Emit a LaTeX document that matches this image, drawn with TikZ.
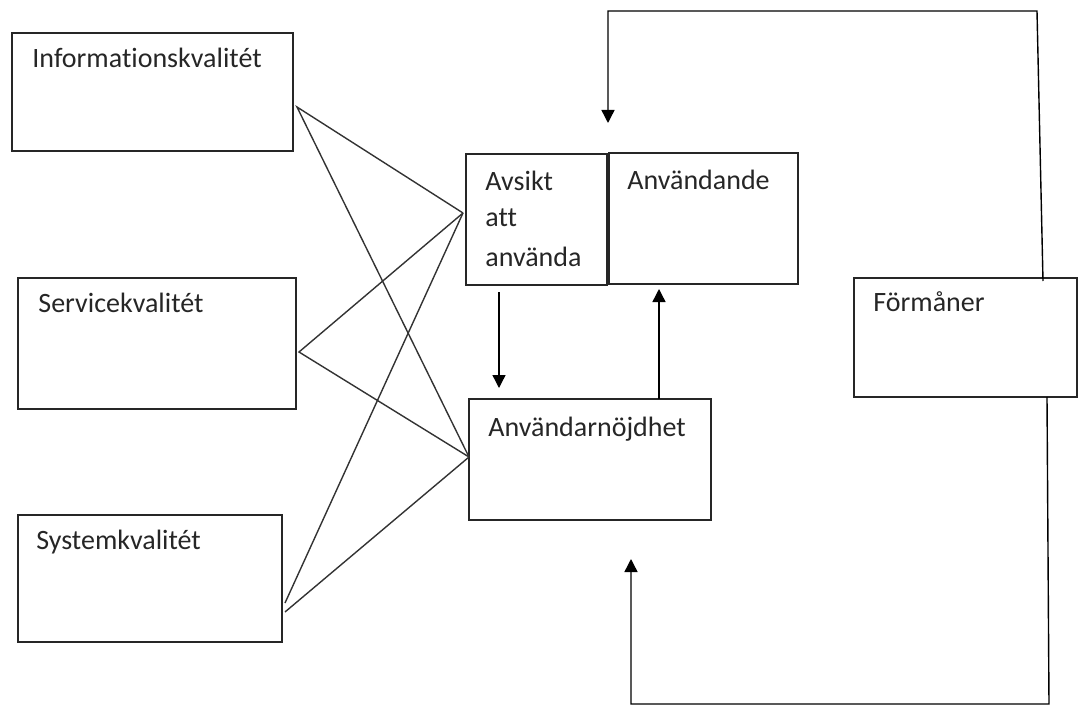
\documentclass[tikz,border=0pt]{standalone}
\usepackage{fontspec}
\setmainfont{Carlito}[Ligatures=CommonOff]
\usetikzlibrary{calc}
\usetikzlibrary{arrows.meta}
\usetikzlibrary{positioning}

\tikzset{
  box/.style={draw=black!85,line width=0.7pt,inner sep=0pt,outer sep=0pt},
  lbl/.style={anchor=base west,inner sep=0pt,font=\fontsize{14}{18.5}\selectfont,text=black!85},
  link/.style={draw=black!80,line width=0.7pt},
  arr/.style={draw=black,line width=0.7pt,-{Triangle[length=6.5pt,width=6.5pt]}}
}

\begin{document}
\begin{tikzpicture}[x=0.5pt,y=-0.5pt]
        \useasboundingbox (0,0) rectangle (1083,706);

        \node[box,minimum width=140.5pt,minimum height=59pt] (info) at (152.5,92) {};
        \node[box,minimum width=139pt,minimum height=65.5pt] (serv) at (157,343.5) {};
        \node[box,minimum width=132pt,minimum height=63.5pt] (sys) at (150,578.5) {};
        \node[box,minimum width=70.5pt,minimum height=65.5pt] (avs) at (536.5,219.5) {};
        \node[box,minimum width=94.5pt,minimum height=65.5pt] (anv) at (703.5,218.5) {};
        \node[box,minimum width=121pt,minimum height=60.5pt] (noj) at (590,459.5) {};
        \node[box,minimum width=111.5pt,minimum height=59.5pt] (form) at (965.5,337.5) {};

        \node[lbl] at ($(info.north west)+(20,35)$) {Informationskvalitét};
        \node[lbl] at ($(serv.north west)+(20,35)$) {Servicekvalitét};
        \node[lbl] at ($(sys.north west)+(18,34)$) {Systemkvalitét};
        \node[lbl] at ($(avs.north west)+(19,37)$) {Avsikt};
        \node[lbl] at ($(avs.north west)+(19,73)$) {att};
        \node[lbl] at ($(avs.north west)+(19,112)$) {använda};
        \node[lbl] at ($(anv.north west)+(18,37)$) {Användande};
        \node[lbl] at ($(noj.north west)+(19,37)$) {Användarnöjdhet};
        \node[lbl] at ($(form.north west)+(19,34)$) {Förmåner};

        % ends of the crossing lines
        \coordinate (infoR) at (297,107);
        \coordinate (servR) at (299,352);
        \coordinate (sysA) at (285,603);
        \coordinate (sysB) at (285,612);
        \coordinate (avsL) at (463,213);
        \coordinate (nojL) at (469,457);

        \draw[link] (avsL) -- (infoR) -- (nojL);
        \draw[link] (avsL) -- (servR) -- (nojL);
        \draw[link] (sysA) -- (avsL);
        \draw[link] (sysB) -- (nojL);

        \draw[arr] ($(avs.south west)+(33,7)$) -- ($(noj.north west)+(30,-11)$);
        \draw[arr] ($(noj.north west)+(190,0)$) -- ($(anv.south west)+(50,5)$);

        % feedback from Förmåner
        \coordinate (fbtop) at (608,123);
        \coordinate (fbbot) at (631,559);
        \draw[arr] ($(form.north west)+(189,3)$) -- (1037,11) -- (608,11) -- (fbtop);
        \draw[arr] ($(form.south west)+(193,0)$) -- (1049,704) -- (631,704) -- (fbbot);
    \end{tikzpicture}
\end{document}
